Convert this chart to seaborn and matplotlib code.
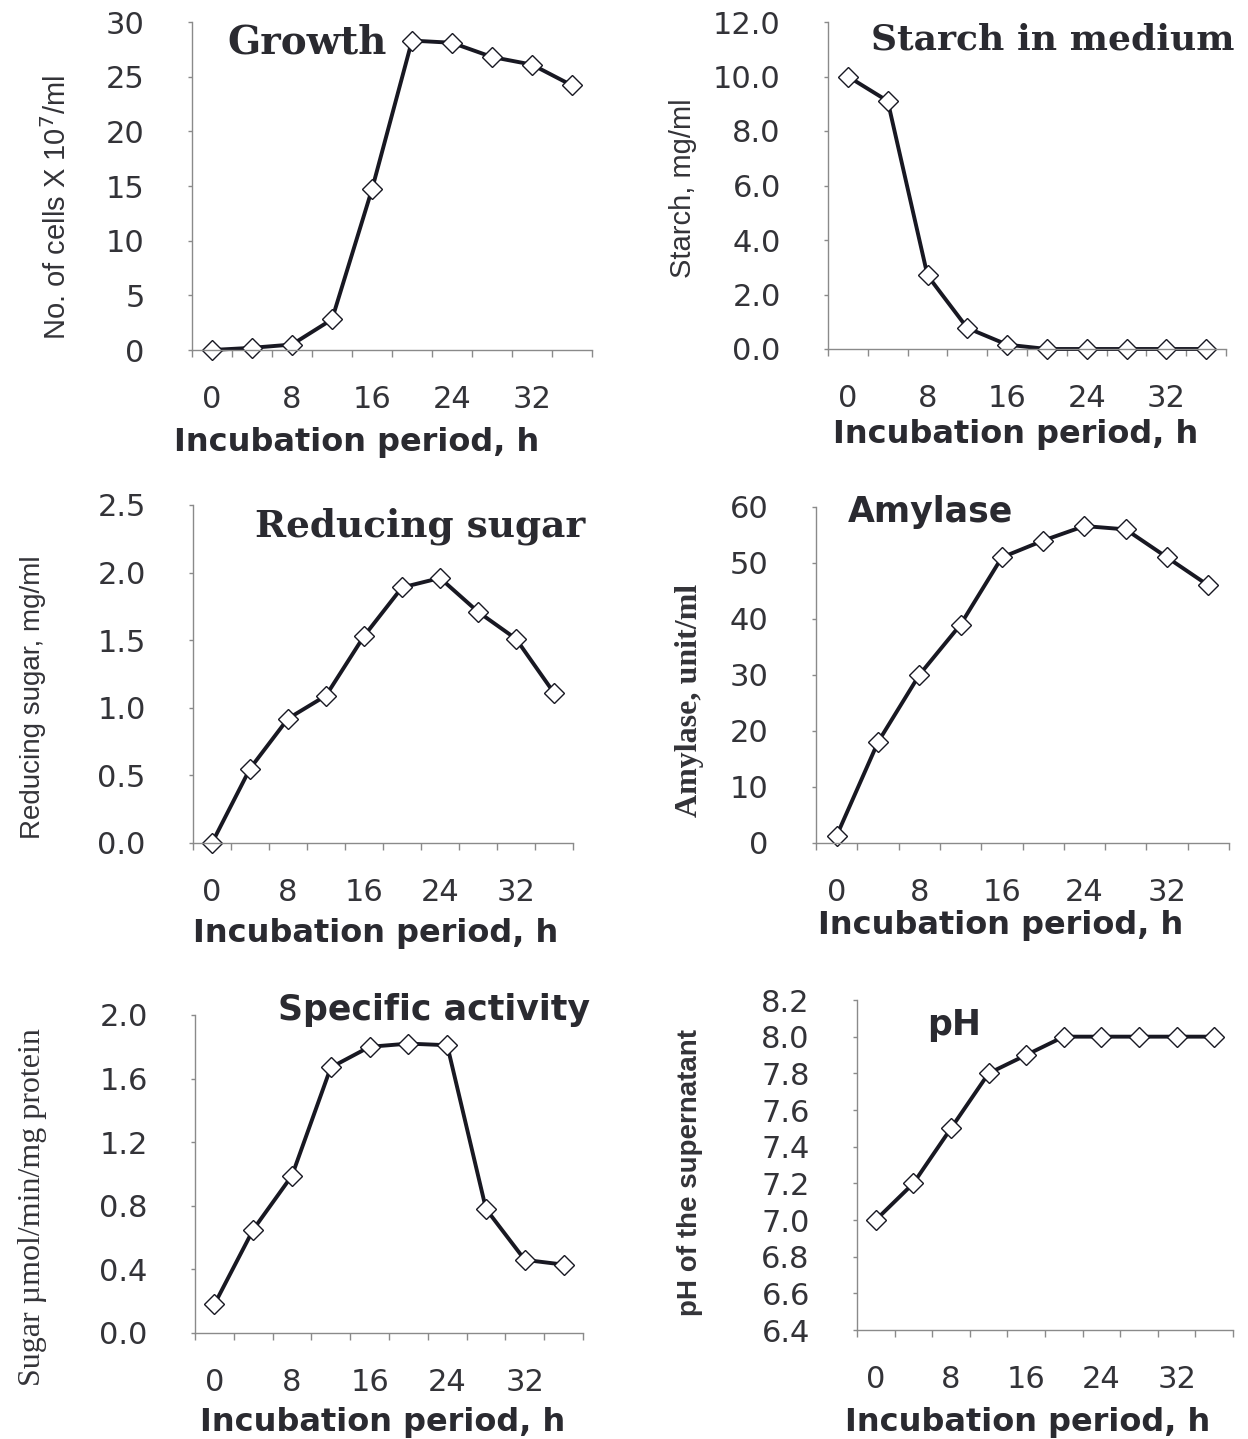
import matplotlib
matplotlib.use("Agg")
import matplotlib.pyplot as plt
import seaborn as sns

sns.set_style("white")
plt.rcParams['font.family'] = ['DejaVu Sans']

# data (incubation time, h)
hours = [0, 4, 8, 12, 16, 20, 24, 28, 32, 36]
growth = [0.0, 0.2, 0.5, 2.8, 14.7, 28.3, 28.1, 26.8, 26.1, 24.2]
starch = [10.0, 9.1, 2.7, 0.77, 0.16, 0.0, 0.0, 0.0, 0.0, 0.0]
reducing_sugar = [0.0, 0.55, 0.92, 1.09, 1.53, 1.89, 1.96, 1.71, 1.51, 1.11]
amylase = [1.3, 18.0, 30.0, 39.0, 51.0, 54.0, 56.6, 56.0, 51.0, 46.0]
specific_activity = [0.18, 0.65, 0.99, 1.67, 1.80, 1.82, 1.81, 0.78, 0.46, 0.43]
ph = [7.0, 7.2, 7.5, 7.8, 7.9, 8.0, 8.0, 8.0, 8.0, 8.0]
xtick_values = [0, 8, 16, 24, 32]
xtick_labels = ['0', '8', '16', '24', '32']

W, H = 1248, 1439
fig = plt.figure(figsize=(W / 100, H / 100), dpi=100)
fig.patch.set_facecolor('white')

INK = '#181822'
TXT = '#333338'
SANS = ['Liberation Sans', 'DejaVu Sans']
SERIF = ['Liberation Serif', 'DejaVu Serif']
WIDE_SERIF = ['DejaVu Serif']

# panel layout in pixels: left, right, top, bottom
panels = [
    dict(y=growth, box=(192, 592, 22, 350), ylim=(0, 30), step=5, fmt='{:.0f}',
         ylabel='No. of cells X 10$^7$/ml', yl_font=dict(family=SANS, size=21), yl_xy=(57, 208),
         title='Growth', t_font=dict(family=WIDE_SERIF, weight='bold', size=28), t_xy=(307, 43),
         xl_xy=(357, 443)),
    dict(y=starch, box=(828, 1226, 22, 349), ylim=(0, 12), step=2, fmt='{:.1f}',
         ylabel='Starch, mg/ml', yl_font=dict(family=SANS, size=21), yl_xy=(683, 188),
         title='Starch in medium', t_font=dict(family=WIDE_SERIF, weight='bold', size=26), t_xy=(1053, 40),
         xl_xy=(1016, 435)),
    dict(y=reducing_sugar, box=(193, 573, 505, 843), ylim=(0, 2.5), step=0.5, fmt='{:.1f}',
         ylabel='Reducing sugar, mg/ml', yl_font=dict(family=SANS, size=20), yl_xy=(33, 697),
         title='Reducing sugar', t_font=dict(family=WIDE_SERIF, weight='bold', size=27), t_xy=(420, 526),
         xl_xy=(376, 934)),
    dict(y=amylase, box=(816, 1229, 507, 843), ylim=(0, 60), step=10, fmt='{:.0f}',
         ylabel='Amylase, unit/ml', yl_font=dict(family=SERIF, weight='bold', size=23), yl_xy=(690, 700),
         title='Amylase', t_font=dict(family='DejaVu Sans', weight='bold', size=25), t_xy=(930, 512),
         xl_xy=(1001, 926)),
    dict(y=specific_activity, box=(195, 583, 1015, 1333), ylim=(0, 2.0), step=0.4, fmt='{:.1f}',
         ylabel='Sugar µmol/min/mg protein', yl_font=dict(family=SERIF, size=23), yl_xy=(33, 1207),
         title='Specific activity', t_font=dict(family='DejaVu Sans', weight='bold', size=25), t_xy=(434, 1010),
         xl_xy=(383, 1423)),
    dict(y=ph, box=(857, 1233, 1000, 1330), ylim=(6.4, 8.2), step=0.2, fmt='{:.1f}',
         ylabel='pH of the supernatant', yl_font=dict(family=SANS, weight='bold', size=20), yl_xy=(690, 1172),
         title='pH', t_font=dict(family='DejaVu Sans', weight='bold', size=25), t_xy=(954, 1025),
         xl_xy=(1028, 1422)),
]

for p in panels:
    l, r, t, b = p['box']
    ax = fig.add_axes([l / W, 1 - b / H, (r - l) / W, (b - t) / H])
    sns.lineplot(x=hours, y=p['y'], ax=ax, color=INK, linewidth=2.8,
                 marker='D', markersize=10, markerfacecolor='white',
                 markeredgecolor=INK, markeredgewidth=1.0, clip_on=False)

    ax.set_xlim(-2, 38)
    lo, hi = p['ylim']
    ax.set_ylim(lo, hi)
    n = int(round((hi - lo) / p['step']))
    yt = [lo + i * p['step'] for i in range(n + 1)]
    ax.set_yticks(yt)
    ax.set_yticklabels([p['fmt'].format(v) for v in yt])
    ax.set_xticks(xtick_values)
    ax.set_xticklabels(xtick_labels)
    ax.set_xticks([-2 + 4 * i for i in range(11)], minor=True)

    for s in ['top', 'right']:
        ax.spines[s].set_visible(False)
    for s in ['left', 'bottom']:
        ax.spines[s].set_color('#8a8a8a')
        ax.spines[s].set_linewidth(1.0)

    ax.tick_params(axis='x', which='major', length=0, pad=25, labelsize=22, labelcolor=TXT)
    ax.tick_params(axis='x', which='minor', length=5, width=1, color='#8a8a8a', direction='out')
    ax.tick_params(axis='y', which='major', length=3, width=1, color='#8a8a8a',
                   direction='out', pad=31, labelsize=22, labelcolor=TXT)
    ax.tick_params(axis='both', which='both', bottom=True, left=True)
    ax.grid(False)

    # y label
    yx, yy = p['yl_xy']
    ax.set_ylabel(p['ylabel'], color=TXT, **p['yl_font'])
    ax.yaxis.set_label_coords((yx - l) / (r - l), (b - yy) / (b - t))
    ax.yaxis.label.set_va('center')

    # x label
    xx, xy = p['xl_xy']
    ax.set_xlabel('Incubation period, h', color='#2a2a30', fontsize=23, fontweight='bold')
    ax.xaxis.set_label_coords((xx - l) / (r - l), (b - xy) / (b - t))
    ax.xaxis.label.set_va('center')

    # panel title
    tx, ty = p['t_xy']
    ax.text((tx - l) / (r - l), (b - ty) / (b - t), p['title'], transform=ax.transAxes,
            ha='center', va='center', color='#2a2a30', clip_on=False, **p['t_font'])

fig.savefig('out.png', dpi=100, facecolor='white')
